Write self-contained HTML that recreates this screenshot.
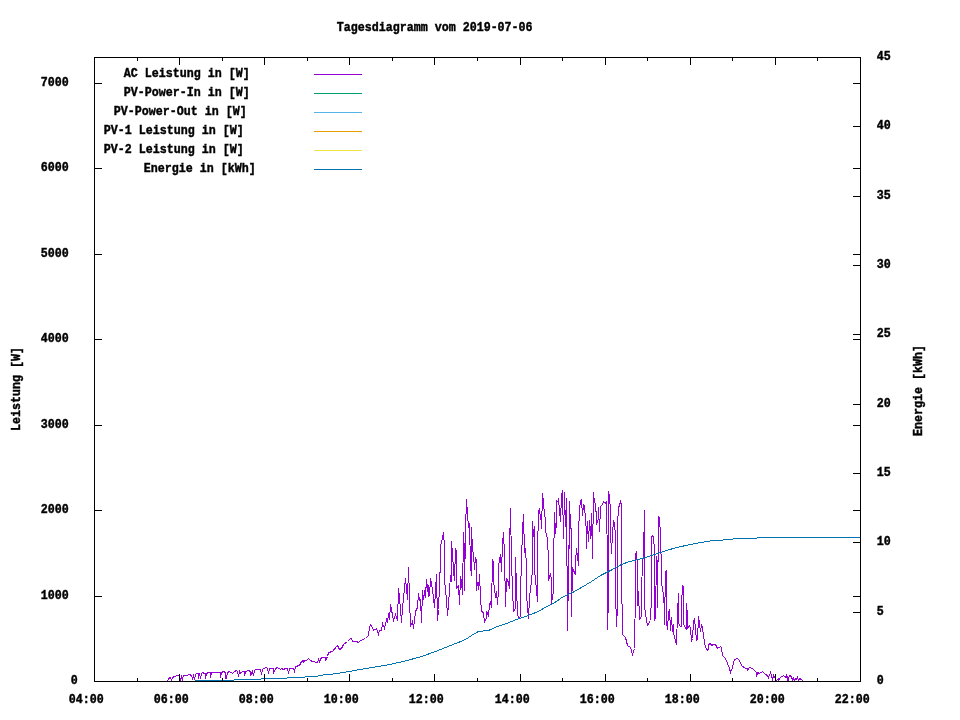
<!DOCTYPE html>
<html><head><meta charset="utf-8"><title>Tagesdiagramm</title>
<style>
html,body{margin:0;padding:0;background:#fff;}
svg{display:block;will-change:transform}
text{font-family:"Liberation Mono","DejaVu Sans Mono",monospace;font-weight:bold;font-size:13.66px;fill:#000;stroke:#000;stroke-width:0.45px;white-space:pre}
</style></head><body>
<svg width="960" height="720" viewBox="0 0 960 720">
<rect width="960" height="720" fill="#fff"/>
<g><polyline points="167.5,681.5 168.5,678.5 170.5,677.5 171.5,680.5 172.5,677.5 174.5,676.5 177.5,675.5 179.5,675.5 180.5,680.5 181.5,676.5 182.5,679.5 183.5,675.5 187.5,675.5 188.5,674.5 189.5,674.5 191.5,675.5 192.5,678.5 193.5,675.5 194.5,679.5 195.5,674.5 196.5,673.5 198.5,673.5 198.5,678.5 199.5,673.5 200.5,678.5 201.5,673.5 202.5,672.5 204.5,673.5 205.5,673.5 205.5,678.5 206.5,673.5 208.5,672.5 210.5,672.5 210.5,677.5 211.5,672.5 218.5,672.5 220.5,672.5 220.5,677.5 221.5,672.5 223.5,671.5 225.5,672.5 225.5,678.5 226.5,678.5 227.5,672.5 229.5,671.5 232.5,673.5 234.5,671.5 236.5,670.5 237.5,671.5 238.5,676.5 239.5,671.5 240.5,673.5 242.5,671.5 244.5,671.5 244.5,675.5 245.5,671.5 248.5,670.5 250.5,671.5 250.5,675.5 252.5,671.5 253.5,675.5 254.5,670.5 255.5,669.5 260.5,669.5 261.5,674.5 262.5,669.5 263.5,668.5 266.5,667.5 267.5,668.5 268.5,673.5 269.5,668.5 273.5,668.5 273.5,673.5 275.5,668.5 277.5,667.5 280.5,669.5 281.5,668.5 283.5,669.5 285.5,668.5 287.5,668.5 288.5,673.5 289.5,668.5 290.5,668.5 293.5,668.5 294.5,671.5 295.5,666.5 299.5,665.5 301.5,661.5 303.5,660.5 303.5,662.5 304.5,660.5 306.5,660.5 308.5,658.5 310.5,660.5 312.5,661.5 317.5,662.5 318.5,659.5 319.5,661.5 321.5,657.5 325.5,657.5 325.5,660.5 327.5,656.5 328.5,652.5 332.5,651.5 337.5,645.5 339.5,649.5 341.5,648.5 343.5,644.5 347.5,641.5 350.5,638.5 351.5,638.5 352.5,641.5 356.5,641.5 358.5,642.5 360.5,640.5 365.5,638.5 368.5,635.5 369.5,627.5 370.5,624.5 372.5,627.5 373.5,630.5 376.5,628.5 378.5,634.5 379.5,630.5 381.5,630.5 382.5,623.5 384.5,628.5 386.5,619.5 387.5,622.5 388.5,613.5 389.5,619.5 390.5,604.5 393.5,620.5 395.5,614.5 397.5,620.5 398.5,588.5 399.5,597.5 401.5,622.5 402.5,607.5 403.5,598.5 405.5,578.5 407.5,599.5 408.5,567.5 409.5,598.5 410.5,626.5 412.5,621.5 413.5,628.5 415.5,611.5 417.5,607.5 418.5,593.5 419.5,600.5 420.5,599.5 421.5,622.5 422.5,590.5 423.5,599.5 425.5,587.5 425.5,597.5 426.5,579.5 428.5,596.5 428.5,585.5 429.5,595.5 430.5,578.5 432.5,589.5 434.5,607.5 436.5,574.5 437.5,620.5 438.5,609.5 440.5,560.5 440.5,546.5 442.5,537.5 443.5,532.5 444.5,546.5 444.5,580.5 446.5,599.5 447.5,615.5 448.5,604.5 450.5,575.5 451.5,581.5 451.5,541.5 452.5,553.5 453.5,570.5 454.5,580.5 455.5,548.5 456.5,552.5 456.5,588.5 458.5,585.5 459.5,604.5 460.5,576.5 461.5,581.5 462.5,594.5 463.5,532.5 464.5,552.5 464.5,590.5 465.5,530.5 466.5,499.5 467.5,513.5 468.5,527.5 469.5,523.5 470.5,566.5 471.5,575.5 471.5,527.5 472.5,550.5 473.5,553.5 474.5,569.5 475.5,557.5 476.5,561.5 476.5,590.5 477.5,582.5 478.5,589.5 479.5,574.5 480.5,597.5 481.5,611.5 483.5,612.5 484.5,622.5 486.5,617.5 486.5,611.5 488.5,615.5 489.5,605.5 490.5,601.5 491.5,607.5 492.5,559.5 493.5,562.5 493.5,580.5 495.5,597.5 496.5,591.5 497.5,604.5 498.5,590.5 498.5,566.5 500.5,554.5 501.5,571.5 502.5,543.5 503.5,532.5 504.5,554.5 505.5,606.5 506.5,578.5 508.5,582.5 509.5,588.5 509.5,548.5 510.5,508.5 511.5,561.5 512.5,589.5 513.5,611.5 515.5,608.5 515.5,557.5 516.5,588.5 517.5,612.5 518.5,618.5 520.5,616.5 520.5,592.5 521.5,560.5 522.5,530.5 523.5,514.5 524.5,552.5 525.5,548.5 526.5,566.5 526.5,594.5 528.5,618.5 529.5,597.5 530.5,589.5 532.5,570.5 532.5,521.5 533.5,536.5 534.5,526.5 534.5,570.5 535.5,578.5 536.5,590.5 537.5,601.5 537.5,550.5 538.5,512.5 539.5,508.5 540.5,518.5 541.5,516.5 541.5,528.5 542.5,493.5 543.5,501.5 544.5,516.5 545.5,517.5 545.5,530.5 547.5,538.5 548.5,560.5 548.5,580.5 550.5,573.5 551.5,580.5 551.5,603.5 553.5,591.5 553.5,565.5 554.5,512.5 555.5,533.5 556.5,523.5 556.5,500.5 558.5,502.5 558.5,498.5 559.5,510.5 560.5,521.5 561.5,495.5 562.5,490.5 563.5,538.5 564.5,492.5 565.5,526.5 566.5,498.5 567.5,630.5 568.5,545.5 568.5,600.5 569.5,501.5 570.5,525.5 571.5,531.5 571.5,616.5 572.5,567.5 573.5,570.5 575.5,574.5 575.5,561.5 576.5,548.5 578.5,565.5 578.5,533.5 579.5,509.5 580.5,500.5 581.5,499.5 582.5,515.5 583.5,504.5 584.5,505.5 585.5,520.5 586.5,530.5 586.5,548.5 587.5,521.5 588.5,541.5 589.5,520.5 590.5,538.5 591.5,513.5 592.5,558.5 593.5,492.5 594.5,502.5 595.5,503.5 596.5,519.5 596.5,524.5 598.5,518.5 598.5,507.5 599.5,531.5 600.5,506.5 602.5,504.5 603.5,501.5 605.5,503.5 606.5,501.5 607.5,565.5 607.5,629.5 608.5,598.5 608.5,491.5 609.5,495.5 610.5,511.5 610.5,532.5 611.5,553.5 612.5,533.5 613.5,520.5 614.5,523.5 615.5,536.5 615.5,590.5 616.5,626.5 617.5,606.5 617.5,524.5 618.5,508.5 619.5,504.5 620.5,501.5 621.5,505.5 621.5,572.5 622.5,634.5 625.5,637.5 627.5,645.5 630.5,647.5 632.5,654.5 634.5,648.5 635.5,591.5 635.5,555.5 636.5,551.5 637.5,565.5 637.5,605.5 638.5,591.5 639.5,619.5 641.5,616.5 641.5,590.5 642.5,563.5 643.5,554.5 644.5,510.5 644.5,606.5 645.5,613.5 647.5,625.5 650.5,620.5 651.5,596.5 651.5,537.5 652.5,535.5 653.5,536.5 654.5,551.5 654.5,620.5 655.5,616.5 656.5,556.5 657.5,607.5 658.5,516.5 659.5,517.5 660.5,536.5 660.5,536.5 661.5,570.5 661.5,583.5 663.5,594.5 664.5,610.5 664.5,624.5 665.5,571.5 666.5,570.5 666.5,622.5 667.5,629.5 668.5,612.5 669.5,609.5 670.5,630.5 671.5,617.5 672.5,631.5 673.5,624.5 673.5,633.5 675.5,640.5 676.5,644.5 677.5,613.5 678.5,593.5 678.5,623.5 680.5,626.5 681.5,626.5 681.5,605.5 682.5,585.5 683.5,586.5 683.5,624.5 685.5,627.5 686.5,629.5 686.5,603.5 687.5,616.5 687.5,628.5 689.5,625.5 690.5,628.5 691.5,640.5 692.5,638.5 693.5,622.5 694.5,618.5 695.5,628.5 696.5,640.5 697.5,639.5 698.5,616.5 699.5,623.5 700.5,631.5 701.5,625.5 702.5,627.5 703.5,636.5 705.5,647.5 707.5,650.5 708.5,648.5 708.5,644.5 710.5,643.5 711.5,645.5 713.5,644.5 715.5,644.5 717.5,648.5 720.5,646.5 721.5,647.5 722.5,655.5 725.5,658.5 727.5,663.5 729.5,668.5 730.5,672.5 732.5,667.5 734.5,659.5 737.5,658.5 739.5,660.5 741.5,665.5 745.5,668.5 747.5,668.5 747.5,670.5 748.5,668.5 749.5,667.5 752.5,668.5 755.5,671.5 756.5,672.5 756.5,676.5 757.5,672.5 759.5,673.5 762.5,671.5 765.5,674.5 767.5,675.5 768.5,677.5 770.5,672.5 772.5,679.5 773.5,675.5 774.5,677.5 776.5,680.5 778.5,678.5 778.5,680.5 780.5,677.5 783.5,675.5 785.5,677.5 786.5,675.5 787.5,680.5 787.5,676.5 788.5,679.5 789.5,675.5 791.5,676.5 792.5,680.5 793.5,678.5 794.5,680.5 795.5,678.5 796.5,679.5 797.5,677.5 798.5,680.5 799.5,678.5 801.5,679.5 803.5,681.5" fill="none" stroke="#9400d3" stroke-width="1" shape-rendering="crispEdges" stroke-linejoin="miter" stroke-linecap="square"/>
<polyline points="195.5,680.5 233.5,680.5 234.5,679.5 260.5,679.5 261.5,678.5 286.5,678.5 287.5,677.5 300.5,677.5 304.5,677.5 305.5,676.5 317.5,676.5 318.5,675.5 337.5,673.5 349.5,671.5 365.5,668.5 384.5,665.5 403.5,661.5 421.5,656.5 435.5,651.5 450.5,645.5 463.5,640.5 468.5,637.5 471.5,635.5 478.5,631.5 488.5,630.5 497.5,626.5 506.5,623.5 516.5,619.5 525.5,616.5 538.5,611.5 548.5,605.5 553.5,603.5 563.5,596.5 572.5,592.5 581.5,587.5 591.5,581.5 600.5,575.5 610.5,570.5 621.5,564.5 629.5,561.5 638.5,559.5 648.5,556.5 657.5,553.5 663.5,551.5 676.5,547.5 695.5,543.5 713.5,540.5 732.5,539.5 733.5,538.5 756.5,538.5 757.5,537.5 860.5,537.5" fill="none" stroke="#0072b2" stroke-width="1" shape-rendering="crispEdges" stroke-linejoin="miter" stroke-linecap="square"/></g>
<g shape-rendering="crispEdges">
<rect x="94" y="57" width="767" height="1" fill="#000"/>
<rect x="94" y="681" width="767" height="1" fill="#000"/>
<rect x="94" y="57" width="1" height="625" fill="#000"/>
<rect x="860" y="57" width="1" height="625" fill="#000"/>
<text transform="translate(68.8,703) scale(0.8539,1)">04:00</text>
<rect x="137" y="678" width="1" height="4" fill="#000"/>
<rect x="137" y="57" width="1" height="4" fill="#000"/>
<rect x="179" y="674" width="1" height="8" fill="#000"/>
<rect x="179" y="57" width="1" height="8" fill="#000"/>
<text transform="translate(153.8,703) scale(0.8539,1)">06:00</text>
<rect x="222" y="678" width="1" height="4" fill="#000"/>
<rect x="222" y="57" width="1" height="4" fill="#000"/>
<rect x="264" y="674" width="1" height="8" fill="#000"/>
<rect x="264" y="57" width="1" height="8" fill="#000"/>
<text transform="translate(238.8,703) scale(0.8539,1)">08:00</text>
<rect x="307" y="678" width="1" height="4" fill="#000"/>
<rect x="307" y="57" width="1" height="4" fill="#000"/>
<rect x="349" y="674" width="1" height="8" fill="#000"/>
<rect x="349" y="57" width="1" height="8" fill="#000"/>
<text transform="translate(323.8,703) scale(0.8539,1)">10:00</text>
<rect x="392" y="678" width="1" height="4" fill="#000"/>
<rect x="392" y="57" width="1" height="4" fill="#000"/>
<rect x="434" y="674" width="1" height="8" fill="#000"/>
<rect x="434" y="57" width="1" height="8" fill="#000"/>
<text transform="translate(408.8,703) scale(0.8539,1)">12:00</text>
<rect x="477" y="678" width="1" height="4" fill="#000"/>
<rect x="477" y="57" width="1" height="4" fill="#000"/>
<rect x="520" y="674" width="1" height="8" fill="#000"/>
<rect x="520" y="57" width="1" height="8" fill="#000"/>
<text transform="translate(494.8,703) scale(0.8539,1)">14:00</text>
<rect x="562" y="678" width="1" height="4" fill="#000"/>
<rect x="562" y="57" width="1" height="4" fill="#000"/>
<rect x="605" y="674" width="1" height="8" fill="#000"/>
<rect x="605" y="57" width="1" height="8" fill="#000"/>
<text transform="translate(579.8,703) scale(0.8539,1)">16:00</text>
<rect x="647" y="678" width="1" height="4" fill="#000"/>
<rect x="647" y="57" width="1" height="4" fill="#000"/>
<rect x="690" y="674" width="1" height="8" fill="#000"/>
<rect x="690" y="57" width="1" height="8" fill="#000"/>
<text transform="translate(664.8,703) scale(0.8539,1)">18:00</text>
<rect x="732" y="678" width="1" height="4" fill="#000"/>
<rect x="732" y="57" width="1" height="4" fill="#000"/>
<rect x="775" y="674" width="1" height="8" fill="#000"/>
<rect x="775" y="57" width="1" height="8" fill="#000"/>
<text transform="translate(749.8,703) scale(0.8539,1)">20:00</text>
<rect x="817" y="678" width="1" height="4" fill="#000"/>
<rect x="817" y="57" width="1" height="4" fill="#000"/>
<text transform="translate(834.8,703) scale(0.8539,1)">22:00</text>
<text transform="translate(70.8,684) scale(0.8539,1)">0</text>
<rect x="94" y="596" width="8" height="1" fill="#000"/>
<rect x="853" y="596" width="8" height="1" fill="#000"/>
<text transform="translate(40.8,599) scale(0.8539,1)">1000</text>
<rect x="94" y="510" width="8" height="1" fill="#000"/>
<rect x="853" y="510" width="8" height="1" fill="#000"/>
<text transform="translate(40.8,513) scale(0.8539,1)">2000</text>
<rect x="94" y="425" width="8" height="1" fill="#000"/>
<rect x="853" y="425" width="8" height="1" fill="#000"/>
<text transform="translate(40.8,428) scale(0.8539,1)">3000</text>
<rect x="94" y="339" width="8" height="1" fill="#000"/>
<rect x="853" y="339" width="8" height="1" fill="#000"/>
<text transform="translate(40.8,342) scale(0.8539,1)">4000</text>
<rect x="94" y="254" width="8" height="1" fill="#000"/>
<rect x="853" y="254" width="8" height="1" fill="#000"/>
<text transform="translate(40.8,257) scale(0.8539,1)">5000</text>
<rect x="94" y="168" width="8" height="1" fill="#000"/>
<rect x="853" y="168" width="8" height="1" fill="#000"/>
<text transform="translate(40.8,171) scale(0.8539,1)">6000</text>
<rect x="94" y="83" width="8" height="1" fill="#000"/>
<rect x="853" y="83" width="8" height="1" fill="#000"/>
<text transform="translate(40.8,86) scale(0.8539,1)">7000</text>
<text transform="translate(876.8,684) scale(0.8539,1)">0</text>
<rect x="853" y="612" width="8" height="1" fill="#000"/>
<text transform="translate(876.8,615) scale(0.8539,1)">5</text>
<rect x="853" y="542" width="8" height="1" fill="#000"/>
<text transform="translate(876.8,545) scale(0.8539,1)">10</text>
<rect x="853" y="473" width="8" height="1" fill="#000"/>
<text transform="translate(876.8,476) scale(0.8539,1)">15</text>
<rect x="853" y="404" width="8" height="1" fill="#000"/>
<text transform="translate(876.8,407) scale(0.8539,1)">20</text>
<rect x="853" y="334" width="8" height="1" fill="#000"/>
<text transform="translate(876.8,337) scale(0.8539,1)">25</text>
<rect x="853" y="265" width="8" height="1" fill="#000"/>
<text transform="translate(876.8,268) scale(0.8539,1)">30</text>
<rect x="853" y="196" width="8" height="1" fill="#000"/>
<text transform="translate(876.8,199) scale(0.8539,1)">35</text>
<rect x="853" y="126" width="8" height="1" fill="#000"/>
<text transform="translate(876.8,129) scale(0.8539,1)">40</text>
<text transform="translate(876.8,60) scale(0.8539,1)">45</text>
<text transform="translate(336.8,31) scale(0.8539,1)">Tagesdiagramm vom 2019-07-06</text>
<text transform="translate(19.8,431) rotate(-90) scale(0.8539,1)">Leistung [W]</text>
<text transform="translate(921.8,436) rotate(-90) scale(0.8539,1)">Energie [kWh]</text>
<text transform="translate(123.8,77) scale(0.8539,1)">AC Leistung in [W]</text>
<rect x="314" y="74" width="48" height="1" fill="#9400d3"/>
<text transform="translate(123.8,96) scale(0.8539,1)">PV-Power-In in [W]</text>
<rect x="314" y="93" width="48" height="1" fill="#009e73"/>
<text transform="translate(113.8,115) scale(0.8539,1)">PV-Power-Out in [W]</text>
<rect x="314" y="112" width="48" height="1" fill="#56b4e9"/>
<text transform="translate(103.8,134) scale(0.8539,1)">PV-1 Leistung in [W]</text>
<rect x="314" y="131" width="48" height="1" fill="#e69f00"/>
<text transform="translate(103.8,153) scale(0.8539,1)">PV-2 Leistung in [W]</text>
<rect x="314" y="150" width="48" height="1" fill="#f0e442"/>
<text transform="translate(143.8,172) scale(0.8539,1)">Energie in [kWh]</text>
<rect x="314" y="169" width="48" height="1" fill="#0072b2"/>
</g>
</svg>
</body></html>
